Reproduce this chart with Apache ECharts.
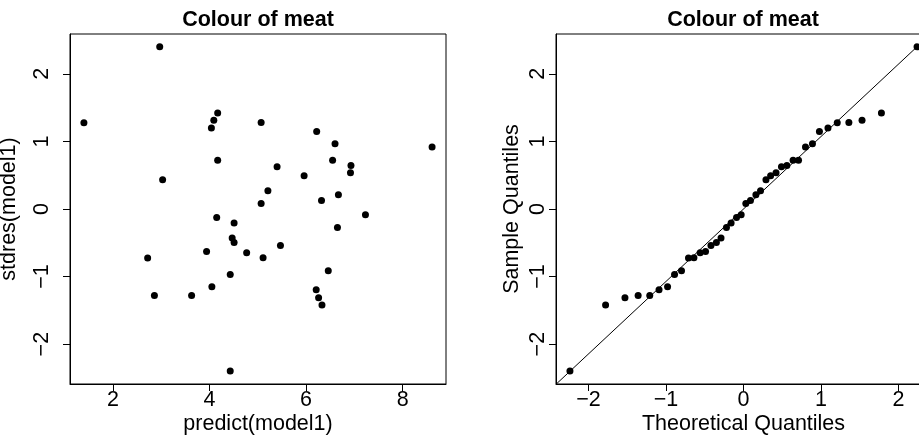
<!DOCTYPE html>
<html>
<head>
<meta charset="utf-8">
<script src="https://cdn.jsdelivr.net/npm/echarts@6/dist/echarts.min.js"></script>
<style>
  html, body { margin: 0; padding: 0; background: #fff; }
  #main { width: 919px; height: 443px; }
</style>
</head>
<body>
<div id="main"></div>
<script>
// fitted values and standardised residuals
var predicted = [2.97, 1.40, 4.17, 4.09, 4.04, 4.17, 3.03, 5.07, 5.07, 4.15,
  6.22, 6.60, 8.61, 6.55, 6.93, 6.92, 5.40, 5.96, 5.21, 6.32,
  6.67, 7.23, 4.51, 4.47, 4.51, 3.94, 4.77, 2.72, 5.11, 4.43,
  4.05, 2.86, 3.63, 4.43, 6.65, 5.47, 6.46, 6.21, 6.26, 6.33];
var stdres = [2.40, 1.275, 1.419, 1.315, 1.197, 0.723, 0.432, 1.28, 0.08, -0.125,
  1.146, 0.964, 0.916, 0.723, 0.644, 0.535, 0.624, 0.491, 0.269, 0.126,
  0.21, -0.086, -0.209, -0.43, -0.495, -0.628, -0.648, -0.727, -0.722, -0.968,
  -1.151, -1.279, -1.279, -2.398, -0.273, -0.54, -0.914, -1.195, -1.313, -1.422];

// theoretical quantiles (x of each point)
var theoretical = [-2.24, -1.78, -1.53, -1.36, -1.21, -1.09, -0.98, -0.89, -0.80, -0.71,
  -0.64, -0.56, -0.49, -0.42, -0.35, -0.29, -0.22, -0.16, -0.09, -0.03,
  0.03, 0.09, 0.16, 0.22, 0.29, 0.35, 0.42, 0.49, 0.56, 0.64,
  0.71, 0.80, 0.89, 0.98, 1.09, 1.21, 1.36, 1.53, 1.78, 2.24];

// reference line through the quartiles
var qqSlope = 1.072;
var qqIntercept = 0.0;

var xTicksLeft = [2, 4, 6, 8];
var xTicksRight = [-2, -1, 0, 1, 2];
var yTicks = [-2, -1, 0, 1, 2];

var sampleSorted = stdres.slice().sort(function (a, b) { return a - b; });

var scatterData = predicted.map(function (x, i) { return [x, stdres[i]]; });
var qqData = theoretical.map(function (x, i) { return [x, sampleSorted[i]]; });

var qxMin = -2.42, qxMax = 2.42;
var lineData = [qxMin, qxMax].map(function (x) { return [x, qqIntercept + qqSlope * x]; });

var FONT = "'Liberation Sans', Arial, Helvetica, sans-serif";
var FS = 21.5;

function fmt(v) {
  return v < 0 ? '\u2212' + (-v) : String(v);
}

function xAxisOf(idx, min, max, ticks, name) {
  return {
    type: 'value', gridIndex: idx, min: min, max: max,
    name: name, nameLocation: 'middle', nameGap: 29, nameMoveOverlap: false,
    nameTextStyle: { color: '#000', fontSize: FS, fontFamily: FONT },
    splitLine: { show: false },
    axisLine: { show: true, onZero: false, lineStyle: { color: '#000', width: 1 } },
    axisTick: { show: true, length: 7, customValues: ticks, lineStyle: { color: '#000' } },
    axisLabel: { customValues: ticks, formatter: fmt, margin: 5, color: '#000', fontSize: FS, fontFamily: FONT }
  };
}

function yAxisOf(idx, name, gap, labelMargin) {
  return {
    type: 'value', gridIndex: idx, min: -2.59, max: 2.59,
    name: name, nameLocation: 'middle', nameGap: gap, nameRotate: 90, nameMoveOverlap: false,
    nameTextStyle: { color: '#000', fontSize: FS, fontFamily: FONT },
    splitLine: { show: false },
    axisLine: { show: true, onZero: false, lineStyle: { color: '#000', width: 1 } },
    axisTick: { show: true, length: 7, customValues: yTicks, lineStyle: { color: '#000' } },
    axisLabel: { customValues: yTicks, formatter: fmt, rotate: 90, margin: labelMargin, color: '#000', fontSize: FS, fontFamily: FONT }
  };
}

var chart = echarts.init(document.getElementById('main'), null, { renderer: 'canvas' });

chart.setOption({
  animation: false,
  backgroundColor: '#fff',
  title: [
    { text: 'Colour of meat', left: 253, top: 4, textAlign: 'center',
      textStyle: { fontSize: FS, fontWeight: 'bold', color: '#000', fontFamily: FONT } },
    { text: 'Colour of meat', left: 738, top: 4, textAlign: 'center',
      textStyle: { fontSize: FS, fontWeight: 'bold', color: '#000', fontFamily: FONT } }
  ],
  grid: [
    { left: 70, top: 34, width: 376, height: 350, show: true, borderColor: '#000', borderWidth: 1,
      backgroundColor: 'transparent', containLabel: false, outerBoundsMode: 'none' },
    { left: 556, top: 34, width: 375, height: 350, show: true, borderColor: '#000', borderWidth: 1,
      backgroundColor: 'transparent', containLabel: false, outerBoundsMode: 'none' }
  ],
  xAxis: [
    xAxisOf(0, 1.112, 8.898, xTicksLeft, 'predict(model1)'),
    xAxisOf(1, qxMin, qxMax, xTicksRight, 'Theoretical Quantiles')
  ],
  yAxis: [
    yAxisOf(0, 'stdres(model1)', 50, 17),
    yAxisOf(1, 'Sample Quantiles', 33, 7)
  ],
  series: [
    { type: 'scatter', xAxisIndex: 0, yAxisIndex: 0, data: scatterData,
      symbol: 'circle', symbolSize: 7, itemStyle: { color: '#000', opacity: 1 } },
    { type: 'line', xAxisIndex: 1, yAxisIndex: 1, data: lineData, clip: true,
      showSymbol: false, symbol: 'none', lineStyle: { color: '#000', width: 1 } },
    { type: 'scatter', xAxisIndex: 1, yAxisIndex: 1, data: qqData,
      symbol: 'circle', symbolSize: 7, itemStyle: { color: '#000', opacity: 1 } }
  ]
});
</script>
</body>
</html>
